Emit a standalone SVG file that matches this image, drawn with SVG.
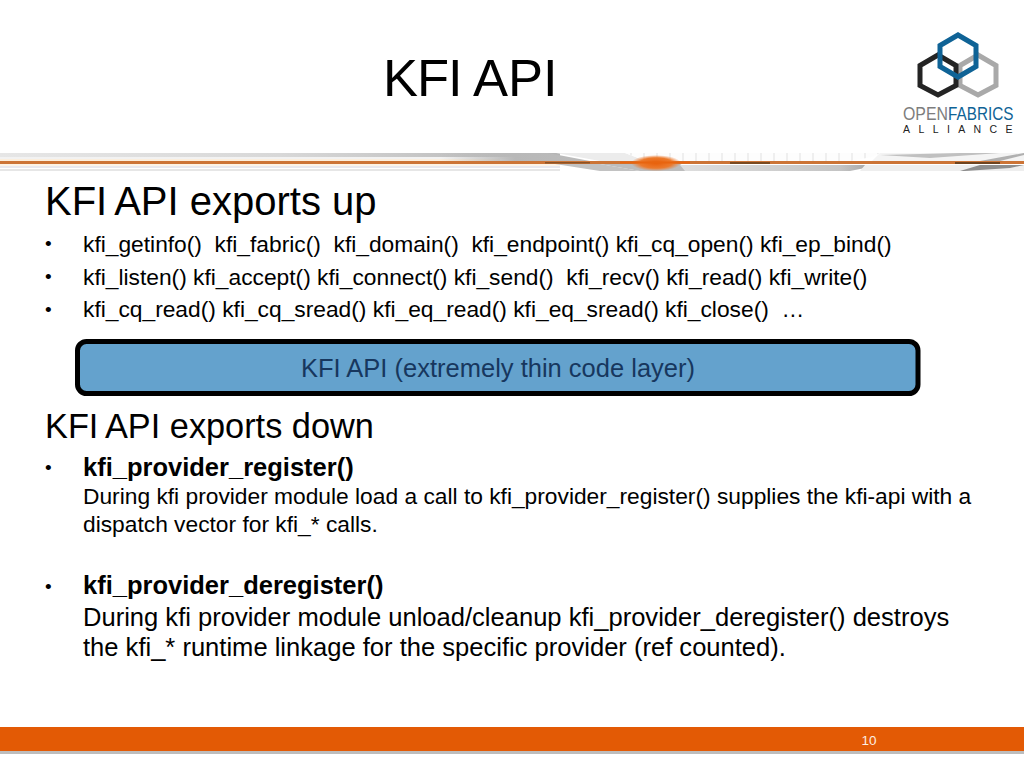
<svg xmlns="http://www.w3.org/2000/svg" width="1024" height="768" viewBox="0 0 1024 768">
<defs>
<style>
text{font-family:"Liberation Sans",Arial,sans-serif;fill:#000;white-space:pre}
.s{font-size:22.78px}
.d{font-size:19px}
.b{font-size:25.5px;font-weight:bold}
.hex{fill:none;stroke-width:5}
</style>
<radialGradient id="glow"><stop offset="0" stop-color="#e85f0a"/><stop offset="0.65" stop-color="#ec7a2c"/><stop offset="1" stop-color="#ee7a30" stop-opacity="0"/></radialGradient>
<linearGradient id="top" x1="0" x2="1" y1="0" y2="0"><stop offset="0" stop-color="#e6e6e6"/><stop offset="0.5" stop-color="#d8d8d8"/><stop offset="1" stop-color="#b4b4b4"/></linearGradient>
<linearGradient id="wedge" x1="0" x2="1" y1="0" y2="0"><stop offset="0" stop-color="#b8b8b8" stop-opacity="0"/><stop offset="0.5" stop-color="#b8b8b8"/><stop offset="1" stop-color="#bcbcbc"/></linearGradient>
<linearGradient id="low" x1="0" x2="1" y1="0" y2="0"><stop offset="0" stop-color="#dedede"/><stop offset="0.8" stop-color="#c4c4c4"/><stop offset="1" stop-color="#9c9c9c"/></linearGradient>
<pattern id="grid" width="13" height="18" patternUnits="userSpaceOnUse" x="644" y="153"><rect width="13" height="18" fill="#efefef"/><rect x="1" y="0" width="11" height="18" fill="#fdfdfd"/></pattern>
</defs>
<rect width="1024" height="768" fill="#fff"/>
<g id="title"><text x="383" y="96" style="font-size:52.5px;letter-spacing:-1px">KFI<tspan x="473" style="letter-spacing:0"> </tspan></text><text x="473" y="96" style="font-size:52.5px">API</text></g>
<g id="logo">
<polygon class="hex" stroke="#a9a9a9" points="978,55 996,65.5 996,85.5 978,95 960,85.5 960,65.5"/>
<polygon class="hex" stroke="#242424" points="938,55 956,65.5 956,85.5 938,95 920,85.5 920,65.5"/>
<polygon class="hex" stroke="#0f6396" points="958,35 976,45.5 976,66.5 958,77 940,66.5 940,45.5"/>
<text transform="translate(903,120) scale(.835,1)" style="font-size:19px;fill:#7d7d7d">OPEN</text>
<text transform="translate(948,120) scale(.805,1)" style="font-size:19px;fill:#0f6396">FABRICS</text>
<text x="903" y="133" style="font-size:10.5px;fill:#222;letter-spacing:8.4px">ALLIANCE</text>
</g>
<g id="divider">
<rect x="0" y="153" width="560" height="4" fill="url(#top)"/>
<rect x="0" y="157" width="560" height="2" fill="#f2f2f2"/>
<rect x="0" y="159" width="500" height="2" fill="#fbeedd"/>
<rect x="0" y="164" width="560" height="2" fill="#fdf3e6"/>
<rect x="0" y="166" width="560" height="2" fill="#e8e8ee"/>
<rect x="0" y="169" width="560" height="2" fill="#e6e6e6"/>
<polygon points="440,153 548,153 590,161 440,161" fill="url(#wedge)"/>
<polygon points="556,153 625,153 646,161 600,161" fill="#ececec"/>
<polygon points="625,153 880,153 872,157 850,161 646,161" fill="url(#grid)"/>
<polygon points="555,164 600,164 640,171 600,171" fill="#c2c2c2"/>
<polygon points="600,164 680,164 690,171 640,171" fill="#bdbdbd"/>
<polygon points="680,165 880,165 850,171 685,171" fill="url(#low)"/>
<polygon points="880,153 1024,153 1024,161 872,161" fill="#f4f4f4"/>
<polygon points="880,155 960,153 1000,153 930,158" fill="#c0c0c0"/>
<polygon points="980,161 1024,153 1024,155 1000,161" fill="#b0b0b0"/>
<polygon points="865,165 1024,165 1024,171 860,171" fill="#eeeeee"/>
<polygon points="980,165 1024,165 1010,168 965,171 960,171" fill="#8e8e8e"/>
<rect x="0" y="161" width="1024" height="3" fill="#cc7436"/>
<ellipse cx="656" cy="163" rx="25" ry="8" fill="url(#glow)"/>
<rect x="620" y="161.5" width="70" height="2" fill="#e8640f"/>
<rect x="545" y="162" width="45" height="1.5" fill="#8a5226"/>
<rect x="730" y="162" width="40" height="2" fill="#7a4a20"/>
<rect x="955" y="162" width="45" height="2" fill="#6e4420"/>
</g>
<g id="exports-up">
<text x="45" y="215" style="font-size:40px">KFI<tspan dx="-2"> API exports up</tspan></text>
<text class="d" x="45" y="250">•</text>
<text class="s" x="83" y="252" xml:space="preserve">kfi_getinfo()  kfi_fabric()  kfi_domain()  kfi_endpoint() kfi_cq_open() kfi_ep_bind()</text>
<text class="d" x="45" y="283">•</text>
<text class="s" x="83" y="285" xml:space="preserve">kfi_listen() kfi_accept() kfi_connect() kfi_send()  kfi_recv() kfi_read() kfi_write()</text>
<text class="d" x="45" y="316">•</text>
<text class="s" x="83" y="317" xml:space="preserve">kfi_cq_read() kfi_cq_sread() kfi_eq_read() kfi_eq_sread() kfi_close()  …</text>
</g>
<g id="layer">
<rect x="77.5" y="341.5" width="840.5" height="52" rx="9" fill="#64a2cd" stroke="#000" stroke-width="5"/>
<text x="498" y="377" text-anchor="middle" style="font-size:25.5px;fill:#17375e">KFI API (extremely thin code layer)</text>
</g>
<g id="exports-down">
<text x="45" y="438" style="font-size:34.3px">KFI<tspan dx="-1"> API exports down</tspan></text>
<text class="d" x="45" y="474">•</text>
<text class="b" x="83" y="476">kfi_provider_register()</text>
<text class="s" x="83" y="504">During kfi provider module load a call to kfi_provider_register() supplies the kfi-api with a</text>
<text class="s" x="83" y="532">dispatch vector for kfi_* calls.</text>
<text class="d" x="45" y="593">•</text>
<text class="b" x="83" y="594">kfi_provider_deregister()</text>
<text x="83" y="626" style="font-size:25.55px">During kfi provider module unload/cleanup kfi_provider_deregister() destroys</text>
<text x="83" y="656" style="font-size:25.55px">the kfi_* runtime linkage for the specific provider (ref counted).</text>
</g>
<g id="footer">
<rect x="0" y="727" width="1024" height="24" fill="#e35a05"/>
<rect x="0" y="751" width="1024" height="3" fill="#bdbdbd"/>
<text x="869" y="745" text-anchor="middle" style="font-size:13.5px;fill:#fdeee2">10</text>
</g>
</svg>
